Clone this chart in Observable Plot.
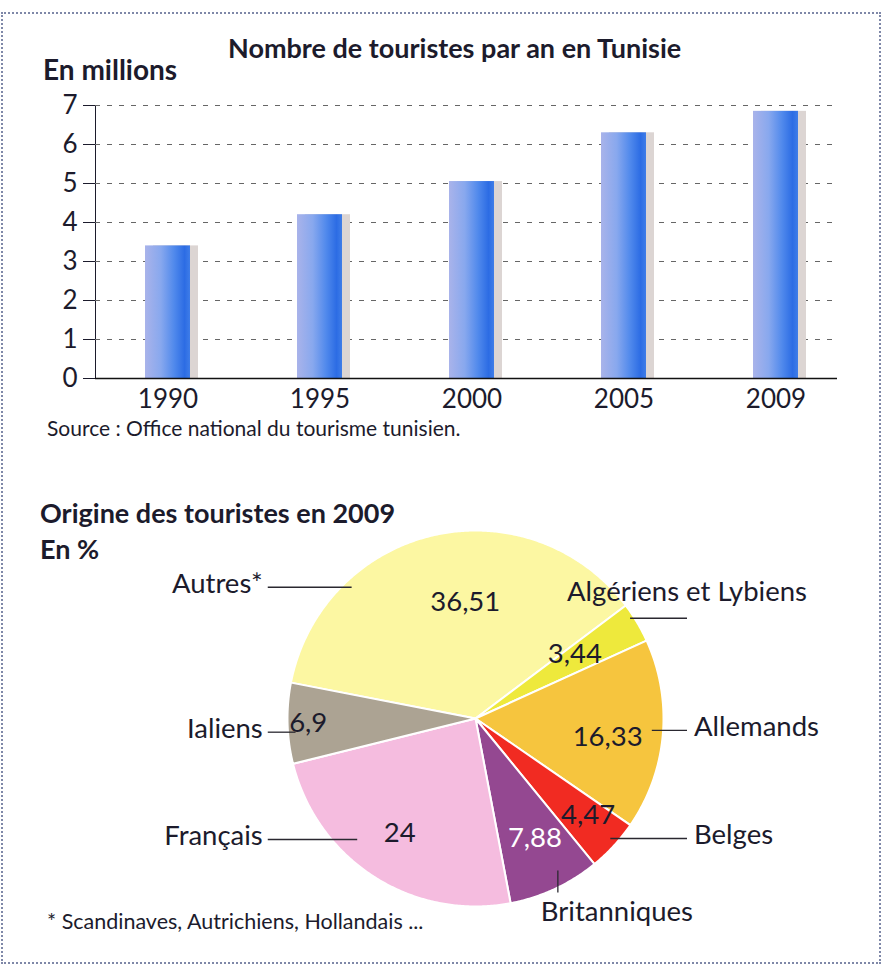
<!DOCTYPE html>
<html><head><meta charset="utf-8">
<script src="https://cdn.jsdelivr.net/npm/d3@7"></script>
<script src="https://cdn.jsdelivr.net/npm/@observablehq/plot@0.6"></script>
<style>
body{margin:0;background:#fff;font-family:Lato,"Open Sans",sans-serif;color:#1c1b2c;}
#page{position:relative;width:893px;height:967px;overflow:hidden;background:#fff;}
.t{position:absolute;white-space:nowrap;line-height:1;}
.b{font-weight:700;}
#border{position:absolute;left:1px;top:12px;width:876px;height:948px;border:2px dotted #7f88a8;}
#c1,#c2{position:absolute;left:0;}
#c1{top:0;} #c2{top:460px;}
</style></head><body><div id="page">
<div id="border"></div>
<div id="c1"></div>
<div id="c2"></div>
<div class="t b" style="left:228px;top:34px;font-size:27px;">Nombre de touristes par an en Tunisie</div>
<div class="t b" style="left:43px;top:55px;font-size:28px;">En millions</div>
<div class="t" style="left:47px;top:417px;font-size:21px;">Source : Office national du tourisme tunisien.</div>
<div class="t b" style="left:40px;top:499px;font-size:27px;">Origine des touristes en 2009</div>
<div class="t b" style="left:40px;top:535px;font-size:27px;">En %</div>
<div class="t" style="left:47px;top:911px;font-size:21.5px;">* Scandinaves, Autrichiens, Hollandais ...</div>
</div>
<script>
// ---- data: bar chart ----
const years = ["1990", "1995", "2000", "2005", "2009"];
const touristsMillions = [3.4, 4.2, 5.05, 6.3, 6.85];
const yTicks = [0, 1, 2, 3, 4, 5, 6, 7];

// ---- data: pie chart (clockwise from "Autres") ----
const origins = ["Autres*", "Algériens et Lybiens", "Allemands", "Belges", "Britanniques", "Français", "Ialiens"];
const shares = [36.51, 3.44, 16.33, 4.47, 7.88, 24, 6.9];
const sliceColors = ["#fcf7a2", "#eee93c", "#f6c53e", "#f12b22", "#944891", "#f5bcdf", "#aca393"];

const ink = "#1c1b2c";

// ---------- bar chart ----------
const bars = years.map((year, i) => ({year, value: touristsMillions[i]}));
const chart1 = Plot.plot({
  width: 893, height: 420,
  marginTop: 105, marginBottom: 42, marginLeft: 95, marginRight: 56,
  style: {fontFamily: "Lato, sans-serif", fontSize: "26px", color: ink, background: "transparent", overflow: "visible"},
  x: {domain: years, range: [99, 844], paddingInner: 0.704, paddingOuter: 0.3, label: null, tickSize: 0, tickPadding: 11},
  y: {domain: [0, 7], ticks: yTicks, tickFormat: d3.format("d"), label: null, tickSize: 12, tickPadding: 6, line: true},
  marks: [
    Plot.ruleY(yTicks.filter(d => d > 0), {stroke: "#666", strokeWidth: 1, strokeDasharray: "5,7"}),
    Plot.barY(bars, {x: "year", y: "value", fill: "#dcd5d3", dx: 8}),
    Plot.barY(bars, {x: "year", y: "value", fill: "url(#barGrad)"}),
    Plot.ruleY([0], {stroke: "#111", strokeWidth: 1.5})
  ]
});
const defs = d3.select(chart1).insert("defs", ":first-child");
const grad = defs.append("linearGradient").attr("id", "barGrad").attr("x1", 0).attr("x2", 1).attr("y1", 0).attr("y2", 0);
[[0, "#a9b3ea"], [0.35, "#88a8ee"], [0.65, "#5089ec"], [0.88, "#2c6ce4"], [1, "#3f7de8"]]
  .forEach(([o, c]) => grad.append("stop").attr("offset", o).attr("stop-color", c));
document.getElementById("c1").appendChild(chart1);

// ---------- pie chart ----------
const deg = Math.PI / 180;
const slices = origins.map((name, i) => ({name, share: shares[i]}));
const arcs = d3.pie().sort(null).value(d => d.share).startAngle(-79 * deg).endAngle(281 * deg)(slices);
const polar = (a, r) => ({x: r * Math.sin(a), y: r * Math.cos(a)});
const angleAt = (a, t) => a.startAngle + (a.endAngle - a.startAngle) * t;

const slicePoints = arcs.flatMap(a => {
  const n = Math.max(2, Math.ceil((a.endAngle - a.startAngle) / (0.5 * deg)));
  const pts = [{name: a.data.name, x: 0, y: 0}];
  for (let k = 0; k <= n; k++) pts.push({name: a.data.name, ...polar(angleAt(a, k / n), 1)});
  return pts;
});

// label layout (fractions of slice angle / radius)
const layout = {
  "Autres*":              {vt: 0.56, vr: 0.62, lt: 0.27, lr: 0.96, side: "left"},
  "Algériens et Lybiens": {vt: 0.32, vr: 0.63, lt: 0.32, lr: 0.98, side: "above"},
  "Allemands":            {vt: 0.55, vr: 0.71, lt: 0.48, lr: 0.94, side: "right"},
  "Belges":               {vt: 0.38, vr: 0.79, lt: 0.44, lr: 0.96, side: "right"},
  "Britanniques":         {vt: 0.45, vr: 0.71, lt: 0.38, lr: 0.92, side: "below"},
  "Français":             {vt: 0.51, vr: 0.73, lt: 0.635, lr: 0.90, side: "left"},
  "Ialiens":              {vt: 0.50, vr: 0.89, lt: 0.385, lr: 0.96, side: "left"}
};
const leftX = -1.105, rightX = 1.125, drop = 0.117;

const valueLabels = arcs.map(a => {
  const L = layout[a.data.name];
  return {name: a.data.name, text: String(a.data.share).replace(".", ","), ...polar(angleAt(a, L.vt), L.vr)};
});
const leaders = arcs.map(a => {
  const L = layout[a.data.name];
  const p = polar(angleAt(a, L.lt), L.lr);
  let x2 = p.x, y2 = p.y;
  if (L.side === "left") x2 = leftX;
  else if (L.side === "right" || L.side === "above") x2 = rightX;
  else y2 = p.y - drop;
  return {name: a.data.name, side: L.side, x1: p.x, y1: p.y, x2, y2};
});
const txt = {fontSize: 27.5, fill: ink};
const chart2 = Plot.plot({
  width: 893, height: 507, margin: 0,
  x: {domain: [-1, 1], range: [287, 663], axis: null},
  y: {domain: [-1, 1], range: [446, 70], axis: null},
  color: {domain: origins, range: sliceColors},
  style: {fontFamily: "Lato, sans-serif", fontSize: "27px", color: ink, background: "transparent", overflow: "visible"},
  marks: [
    Plot.line(slicePoints, {x: "x", y: "y", z: "name", fill: "name", stroke: "white", strokeWidth: 2, curve: "linear-closed", strokeLinejoin: "round"}),
    Plot.text(valueLabels.filter(d => d.name !== "Britanniques"), {x: "x", y: "y", text: "text", ...txt}),
    Plot.text(valueLabels.filter(d => d.name === "Britanniques"), {x: "x", y: "y", text: "text", ...txt, fill: "white"}),
    Plot.link(leaders, {x1: "x1", y1: "y1", x2: "x2", y2: "y2", stroke: "#2a2830", strokeWidth: 1.3}),
    Plot.text(leaders.filter(d => d.side === "left"), {x: "x2", y: "y2", text: "name", textAnchor: "end", dx: -5, dy: -3, ...txt}),
    Plot.text(leaders.filter(d => d.side === "right"), {x: "x2", y: "y2", text: "name", textAnchor: "start", dx: 7, dy: -3, ...txt}),
    Plot.text(leaders.filter(d => d.side === "above"), {x: "x2", y: "y2", text: "name", textAnchor: "middle", dy: -26, ...txt}),
    Plot.text(leaders.filter(d => d.side === "below"), {x: "x2", y: "y2", text: "name", textAnchor: "start", dx: -17, dy: 20, ...txt})
  ]
});
document.getElementById("c2").appendChild(chart2);
</script>
</body></html>
